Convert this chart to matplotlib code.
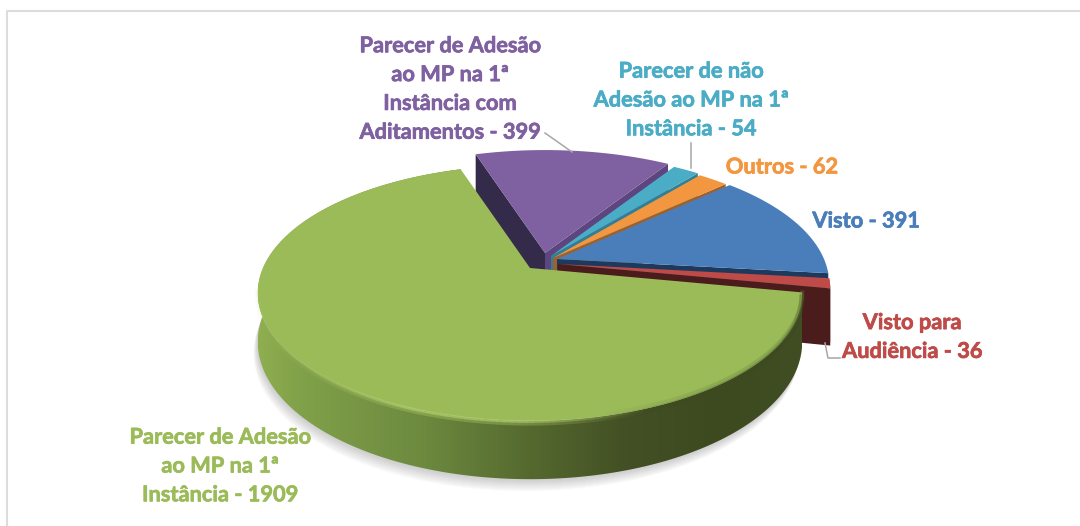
import numpy as np
import matplotlib
matplotlib.use('Agg')
import matplotlib.pyplot as plt
import matplotlib.patheffects as pe
from matplotlib.collections import LineCollection
from matplotlib.colors import LinearSegmentedColormap, to_rgb
from matplotlib.patches import Polygon

# clockwise order, same as the source sheet
categories = ['Visto', 'Visto para Audiência', 'Parecer de Adesão ao MP na 1ª Instância',
              'Parecer de Adesão ao MP na 1ª Instância com Aditamentos',
              'Parecer de não Adesão ao MP na 1ª Instância', 'Outros']
values = [391, 36, 1909, 399, 54, 62]
labels = ['Visto - 391', 'Visto para\nAudiência - 36', 'Parecer de Adesão\nao MP na 1ª\nInstância - 1909',
          'Parecer de Adesão\nao MP na 1ª\nInstância com\nAditamentos - 399',
          'Parecer de não\nAdesão ao MP na 1ª\nInstância - 54', 'Outros - 62']
top_colors = ['#4a7ebb', '#be4b48', '#9bbb59', '#7f60a0', '#4aacc5', '#f39640']
wall_colors = ['#1d3a5c', '#4a1c1c', '#5a6e32', '#342a4a', '#2f7f96', '#a0602c']
edge_colors = ['#1d3a5c', '#4a1c1c', '#5a6e32', '#5d4680', '#2f7f96', '#a0602c']
label_pos = [(866, 221), (912, 337), (220, 466), (450, 89), (691, 100), (782, 167)]
apexes = [(557, 259), (558, 264), (530, 268), (545, 253), (551, 256), (553, 258)]
slice_depth = [47, 55, 47, 47, 47, 47]
leaders = [[(545, 133), (572, 152)], [(691, 143), (691, 168)], [(825, 343), (828, 358), (840, 358)]]

A, B, K = 267, 123, 0.195


def project(theta, apex, depth):
    # flat disc seen in perspective, angle in degrees
    t = np.radians(theta)
    x = np.cos(t)
    y = np.sin(t)
    w = 1 + K * y
    return apex[0] + A * x / w, apex[1] - B * y / w, depth / w


def slice_angles():
    # first slice (Visto) starts at 42.9 degrees, going clockwise
    spans = 360 * np.array(values) / sum(values)
    ends = 42.9 - np.cumsum(spans)
    starts = ends + spans
    return starts, ends


def fade_line(ax, X, Y, color, alpha, lw, z):
    pts = np.c_[X, Y]
    segs = np.stack([pts[:-1], pts[1:]], axis=1)
    rgba = np.c_[np.tile(to_rgb(color), (len(segs), 1)), alpha[:-1]]
    ax.add_collection(LineCollection(segs, colors=rgba, linewidths=lw, zorder=z))


fig = plt.figure(figsize=(10.8, 5.26), dpi=100)
ax = fig.add_axes([0, 0, 1, 1])
ax.set_xlim(0, 1080)
ax.set_ylim(526, 0)
ax.axis('off')

# frame of the pasted chart
ax.plot([7, 7, 1080], [526, 11, 11], color='#dcdcdc', lw=1.5)

starts, ends = slice_angles()

# soft shadow under the big slice
th = np.linspace(starts[2], ends[2], 400)
X, Y, D = project(th, apexes[2], slice_depth[2])
for off in range(1, 13):
    ax.add_patch(Polygon(np.c_[X - off * 0.35, Y + D + off], closed=True, fc='#777777',
                         ec='none', alpha=0.03, zorder=1))

# back to front
order = [3, 4, 5, 0, 1, 2]
z = 2
for i in order:
    apex = apexes[i]
    depth = slice_depth[i]
    th = np.linspace(starts[i], ends[i], 240)
    X, Y, D = project(th, apex, depth)

    if i == 2:
        wall = np.r_[np.c_[X, Y], np.c_[X, Y + D][::-1]]
        clip = Polygon(wall, closed=True, transform=ax.transData, fc='none', ec='none')
        ax.add_patch(clip)
        cmap = LinearSegmentedColormap.from_list('rim', [
            (0.0, '#8fae50'), (0.08, '#80a049'), (0.3, '#6d8a3f'), (0.5, '#55692f'),
            (0.68, '#434f24'), (0.85, '#3d4a20'), (1.0, '#414e23')])
        im = ax.imshow(np.linspace(0, 1, 400).reshape(1, -1), cmap=cmap, aspect='auto',
                       extent=(258, 802, 526, 0), zorder=z, interpolation='bilinear')
        im.set_clip_path(clip)
    else:
        # only the faces turned towards the viewer
        if i == 3:
            ax.add_patch(Polygon([apex, (X[0], Y[0]), (X[0], Y[0] + D[0]), (apex[0], apex[1] + depth)],
                                 fc=wall_colors[i], ec='none', zorder=z))
        ax.add_patch(Polygon([apex, (X[-1], Y[-1]), (X[-1], Y[-1] + D[-1]), (apex[0], apex[1] + depth)],
                             fc=edge_colors[i], ec='none', zorder=z))
        if i == 1:
            ax.add_patch(Polygon(np.r_[np.c_[X, Y], np.c_[X, Y + D][::-1]], fc=wall_colors[i],
                                 ec='none', zorder=z))
    ax.add_patch(Polygon(np.r_[[apex], np.c_[X, Y]], closed=True, fc=top_colors[i],
                         ec='none', zorder=z + 1))
    z += 2

# bevel on the front rim of the green slice: light on the left, dark on the right
th = np.linspace(starts[2], ends[2], 600)
X, Y, D = project(th, apexes[2], slice_depth[2])
front = Y > 285
X, Y = X[front], Y[front]
light = np.clip((X - 258) / 150, 0.15, 1) * np.clip((650 - X) / 130, 0, 1)
dark = np.clip((X - 600) / 120, 0, 1)
fade_line(ax, X, Y + 2, '#b5d26c', light * 0.35, 4.0, z)
fade_line(ax, X, Y + 1, '#b9d673', light * 0.6, 1.6, z)
fade_line(ax, X, Y + 2, '#3d4a20', dark * 0.35, 4.0, z)
fade_line(ax, X, Y - 2, '#6f8a40', dark * 0.35, 3.0, z)

for pts in leaders:
    ax.plot(*zip(*pts), color='#a6a6a6', lw=1.1, zorder=z)

for i, txt in enumerate(labels):
    t = ax.text(label_pos[i][0], label_pos[i][1], txt, color=top_colors[i], family='Lato',
                fontweight='bold', fontsize=15.7, ha='center', va='center', linespacing=1.46,
                zorder=z + 1)
    t.set_path_effects([pe.withStroke(linewidth=0.5, foreground=top_colors[i])])

fig.savefig('out.png', dpi=100, facecolor='white')
